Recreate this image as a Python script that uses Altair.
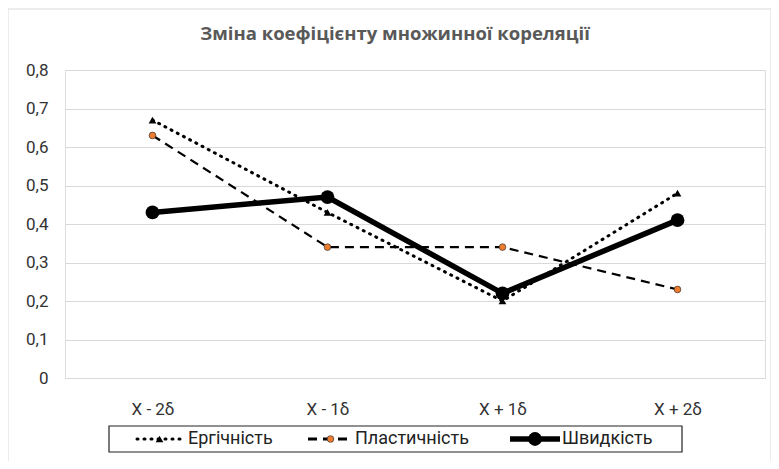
import altair as alt
import pandas as pd

categories = ["X - 2δ", "X - 1δ", "X + 1δ", "X + 2δ"]
series_names = ["Ергічність", "Пластичність", "Швидкість"]
ergichnist = [0.67, 0.43, 0.20, 0.48]
plastychnist = [0.63, 0.34, 0.34, 0.23]
shvydkist = [0.43, 0.47, 0.22, 0.41]
y_ticks = [0, 0.1, 0.2, 0.3, 0.4, 0.5, 0.6, 0.7, 0.8]
title_text = "Зміна коефіцієнту множинної кореляції"

rows = []
for name, vals in zip(series_names, [ergichnist, plastychnist, shvydkist]):
    for c, v in zip(categories, vals):
        rows.append({"cat": c, "series": name, "value": v})
df = pd.DataFrame(rows)

W, H = 700, 308
FONT = "Roboto"
LABEL_COLOR = "#333333"

x_enc = alt.X("cat:N", sort=categories, scale=alt.Scale(type="point", padding=0.5),
              axis=alt.Axis(title=None, domain=False, ticks=False, labelAngle=0,
                            labelPadding=23, labelFontSize=17, labelColor=LABEL_COLOR,
                            labelFont=FONT, grid=False))
y_enc = alt.Y("value:Q", scale=alt.Scale(domain=[0, 0.8], nice=False),
              axis=alt.Axis(title=None, values=y_ticks, domain=False, ticks=False,
                            labelPadding=17, labelFontSize=17, labelColor=LABEL_COLOR,
                            labelFont=FONT, gridColor="#d9d9d9", gridWidth=1,
                            labelExpr="datum.value == 0 ? '0' : replace(format(datum.value, '.1f'), '.', ',')"))

base = alt.Chart(df).encode(x=x_enc, y=y_enc)

def series(name):
    return base.transform_filter(alt.datum.series == name)

line_styles = [
    dict(strokeWidth=3, strokeDash=[1, 6], strokeCap="round"),
    dict(strokeWidth=2.2, strokeDash=[9, 6]),
    dict(strokeWidth=5.5),
]
point_styles = [
    dict(shape="triangle-up", filled=True, color="black", size=60, opacity=1),
    dict(shape="circle", filled=True, fill="#ED7D31", stroke="#222222", strokeWidth=0.6, size=45, opacity=1),
    dict(shape="circle", filled=True, color="black", size=190, opacity=1),
]

lines = [series(n).mark_line(color="black", **ls) for n, ls in zip(series_names, line_styles)]
points = [series(n).mark_point(**ps) for n, ps in zip(series_names, point_styles)]

one = pd.DataFrame({"a": [0]})

# frame and legend (layout decoration, pixel values relative to plot area)
frame = alt.Chart(one).mark_rect(fillOpacity=0, stroke="#d9d9d9", strokeWidth=1).encode(
    x=alt.value(-57), x2=alt.value(706), y=alt.value(-61), y2=alt.value(392))

title = alt.Chart(one).mark_text(text=title_text, align="center", baseline="middle",
                                 font="Open Sans", fontSize=18.5, fontWeight="bold",
                                 color="#595959").encode(x=alt.value(330), y=alt.value(-36))

leg_box = alt.Chart(one).mark_rect(fill="white", stroke="#222222", strokeWidth=1.2).encode(
    x=alt.value(44), x2=alt.value(617), y=alt.value(356), y2=alt.value(382))

LY = 369
leg_items = [
    (72, 117, 123),
    (243, 288, 290),
    (445, 495, 497),
]
leg_line_styles = [
    dict(strokeWidth=3, strokeDash=[1, 6], strokeCap="round"),
    dict(strokeWidth=3, strokeDash=[9, 6]),
    dict(strokeWidth=5.5),
]
legend_layers = []
for (x0, x1, tx), name, ls, ps in zip(leg_items, series_names, leg_line_styles, point_styles):
    legend_layers.append(alt.Chart(one).mark_rule(color="black", **ls).encode(
        x=alt.value(x0), x2=alt.value(x1), y=alt.value(LY)))
    legend_layers.append(alt.Chart(one).mark_point(**ps).encode(
        x=alt.value((x0 + x1) / 2), y=alt.value(LY)))
    legend_layers.append(alt.Chart(one).mark_text(text=name, align="left", baseline="middle",
                                                  font=FONT, fontSize=18, color="#222222").encode(
        x=alt.value(tx), y=alt.value(LY)))

chart = alt.layer(frame, title, *lines, *points, leg_box, *legend_layers).properties(
    width=W, height=H,
    autosize=alt.AutoSizeParams(type="none"),
    padding={"left": 57, "top": 62, "right": 6, "bottom": 83},
).configure_view(stroke=None).configure(background="white")

chart.save("out.html", embed_options={"renderer": "svg", "actions": False})
